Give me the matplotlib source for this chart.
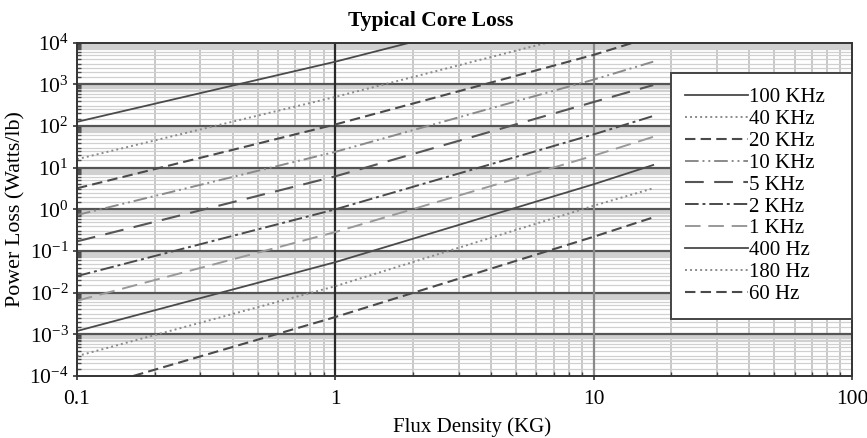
import numpy as np
import matplotlib
matplotlib.use("Agg")
import matplotlib.pyplot as plt
from matplotlib.ticker import LogLocator, FixedLocator, FixedFormatter, NullFormatter

plt.rcParams["font.family"] = ["Liberation Serif", "DejaVu Serif"]
plt.rcParams["mathtext.fontset"] = "stix"

# Core loss curves: flux density (KG) vs power loss (W/lb)
labels = ["100 KHz", "40 KHz", "20 KHz", "10 KHz", "5 KHz",
          "2 KHz", "1 KHz", "400 Hz", "180 Hz", "60 Hz"]

b_100k = [0.1, 1.0, 1.94]
p_100k = [126, 3500, 1.0e4]
b_40k = [0.1, 1.0, 6.6]
p_40k = [16, 500, 1.0e4]
b_20k = [0.1, 1.0, 10.0, 14.2]
p_20k = [3.2, 109, 5100, 1.0e4]
b_10k = [0.1, 1.0, 10.0, 17.0]
p_10k = [0.73, 24, 1300, 3500]
b_5k = [0.1, 1.0, 10.0, 17.0]
p_5k = [0.17, 6.2, 377, 960]
b_2k = [0.1, 1.0, 10.0, 17.0]
p_2k = [0.025, 1.0, 63, 174]
b_1k = [0.1, 1.0, 10.0, 17.0]
p_1k = [0.0064, 0.285, 19.4, 55]
b_400 = [0.1, 1.0, 10.0, 17.0]
p_400 = [0.0012, 0.054, 4.0, 11.6]
b_180 = [0.1, 1.0, 10.0, 17.0]
p_180 = [3.0e-4, 0.0143, 1.22, 3.2]
b_60 = [0.165, 1.0, 10.0, 17.0]
p_60 = [1.0e-4, 0.0026, 0.22, 0.64]

xtick_vals = [0.1, 1, 10, 100]
xtick_labels = ["0.1", "1", "10", "100"]
ytick_vals = [1e-4, 1e-3, 1e-2, 1e-1, 1e0, 1e1, 1e2, 1e3, 1e4]

series = [
    (b_100k, p_100k, "#4a4a4a", "-", 1.3),
    (b_40k, p_40k, "#8a8a8a", (0, (1, 1.6)), 1.4),
    (b_20k, p_20k, "#4a4a4a", (0, (5, 2.5)), 1.5),
    (b_10k, p_10k, "#8a8a8a", (0, (7, 2, 1, 2, 1, 2)), 1.4),
    (b_5k, p_5k, "#555555", (0, (9, 5)), 1.5),
    (b_2k, p_2k, "#4a4a4a", (0, (7, 2, 1.5, 2)), 1.4),
    (b_1k, p_1k, "#999999", (0, (8, 4)), 1.4),
    (b_400, p_400, "#4a4a4a", "-", 1.3),
    (b_180, p_180, "#8a8a8a", (0, (1, 1.6)), 1.4),
    (b_60, p_60, "#4a4a4a", (0, (5, 2.5)), 1.5),
]

fig = plt.figure(figsize=(8.67, 4.38), dpi=100)
ax = fig.add_axes([0.0888, 0.1416, 0.8939, 0.7609])
ax.set_xscale("log")
ax.set_yscale("log")
ax.set_xlim(0.1, 100)
ax.set_ylim(1e-4, 1e4)

ax.xaxis.set_major_locator(FixedLocator(xtick_vals))
ax.xaxis.set_major_formatter(FixedFormatter(xtick_labels))
ax.xaxis.set_minor_locator(LogLocator(base=10, subs=np.arange(2, 10)))
ax.xaxis.set_minor_formatter(NullFormatter())
ax.yaxis.set_major_locator(FixedLocator(ytick_vals))
ax.yaxis.set_minor_locator(LogLocator(
    base=10, subs=[1.5, 2, 2.5, 3, 4, 5, 6, 7, 7.5, 8, 8.5, 9, 9.5], numticks=40))
ax.yaxis.set_minor_formatter(NullFormatter())

# Light minor grid, with heavier decade lines laid over it
ax.grid(which="minor", axis="x", color="#c4c4c4", lw=1.3)
ax.grid(which="minor", axis="y", color="#d0d0d0", lw=0.9)
ax.set_axisbelow(True)
for yv in ytick_vals[1:-1]:
    ax.axhline(yv, color="#555555", lw=1.6, zorder=0.8)
for xv in xtick_vals[1:-1]:
    ax.axvline(xv, color="#2a2a2a" if xv == 1 else "#8a8a8a", lw=1.6, zorder=0.9)

for (bx, py, col, ls, lw), lab in zip(series, labels):
    ax.plot(bx, py, color=col, ls=ls, lw=lw, label=lab, zorder=2)

for sp in ax.spines.values():
    sp.set_color("#333333")
    sp.set_linewidth(1.4)

ax.tick_params(which="major", direction="out", length=3, width=1.2,
               color="#333333", labelsize=15.5)
ax.tick_params(which="minor", direction="in", length=3, width=1.0, color="#444444")
ax.tick_params(axis="x", which="major", pad=7)
ax.tick_params(axis="y", which="major", pad=3)

ax.set_title("Typical Core Loss", fontsize=15.5, fontweight="bold", pad=12, x=0.457)
ax.set_xlabel("Flux Density (KG)", fontsize=15, labelpad=6, x=0.51)
ax.set_ylabel("Power Loss (Watts/lb)", fontsize=15.8, labelpad=3)

leg = ax.legend(loc="upper left", bbox_to_anchor=(0.766, 0.0, 0.234, 0.909),
                mode="expand", fontsize=15,
                handlelength=3.0, handletextpad=0.08, labelspacing=0.11,
                borderpad=0.7, fancybox=False, framealpha=1.0,
                edgecolor="#444444", borderaxespad=0)
leg.get_frame().set_linewidth(1.4)

fig.savefig("out.png", dpi=100)
